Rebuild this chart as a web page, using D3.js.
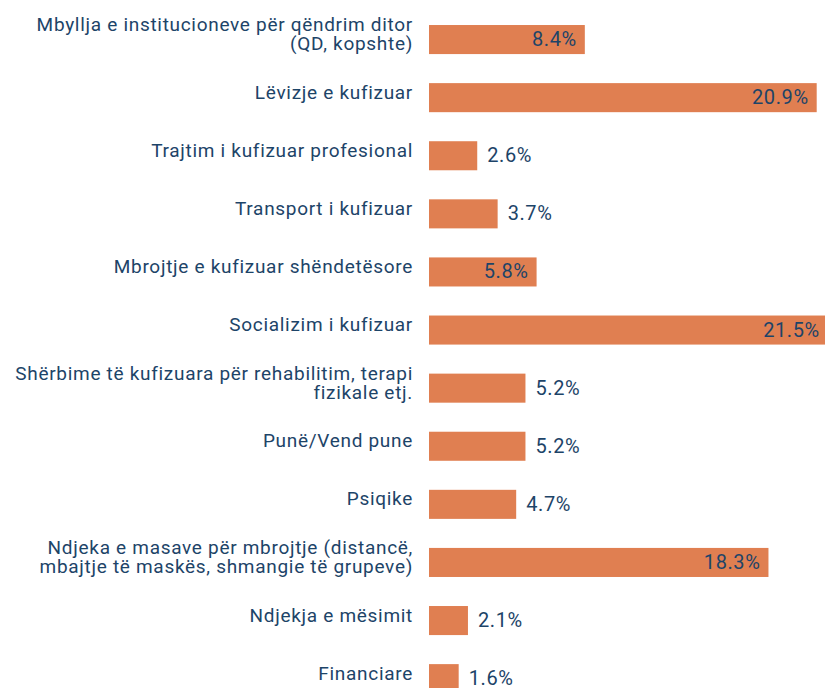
<!DOCTYPE html>
<html>
<head>
<meta charset="utf-8">
<script src="https://cdn.jsdelivr.net/npm/d3@7"></script>
<style>
  html, body { margin: 0; padding: 0; background: #ffffff; }
  svg { display: block; }
  text { font-family: "Roboto", "DejaVu Sans", sans-serif; }
</style>
</head>
<body>
<svg id="chart" width="825" height="688"></svg>
<script>
const categories = [
  "Mbyllja e institucioneve për qëndrim ditor\n(QD, kopshte)",
  "Lëvizje e kufizuar",
  "Trajtim i kufizuar profesional",
  "Transport i kufizuar",
  "Mbrojtje e kufizuar shëndetësore",
  "Socializim i kufizuar",
  "Shërbime të kufizuara për rehabilitim, terapi\nfizikale etj.",
  "Punë/Vend pune",
  "Psiqike",
  "Ndjeka e masave për mbrojtje (distancë,\nmbajtje të maskës, shmangie të grupeve)",
  "Ndjekja e mësimit",
  "Financiare"
];
const values = [8.4, 20.9, 2.6, 3.7, 5.8, 21.5, 5.2, 5.2, 4.7, 18.3, 2.1, 1.6];
const valueLabels = ["8.4%", "20.9%", "2.6%", "3.7%", "5.8%", "21.5%", "5.2%", "5.2%", "4.7%", "18.3%", "2.1%", "1.6%"];

const barColor = "#E07F51";
const textColor = "#1D4468";

const svg = d3.select("#chart");
const x0 = 429;
const pxPerUnit = 18.55;
const x = d3.scaleLinear().domain([0, 21.5]).range([x0, x0 + pxPerUnit * 21.5]);
const step = 58.1;
const y = d3.scaleBand()
  .domain(d3.range(categories.length))
  .range([10.5, 10.5 + step * categories.length])
  .paddingInner(0.5)
  .paddingOuter(0.25);

const data = categories.map((c, i) => ({ c, v: values[i], l: valueLabels[i], i }));

svg.selectAll("rect.bar").data(data).join("rect")
  .attr("class", "bar")
  .attr("x", x(0))
  .attr("y", d => y(d.i))
  .attr("width", d => x(d.v) - x(0))
  .attr("height", y.bandwidth())
  .attr("fill", barColor);

// category labels: one text element per line
const lineH = 19.3;
const catLines = [];
data.forEach(d => {
  const lines = d.c.split("\n");
  lines.forEach((ln, k) => catLines.push({ i: d.i, ln, k, n: lines.length }));
});
svg.selectAll("text.cat").data(catLines).join("text")
  .attr("class", "cat")
  .attr("text-anchor", "end")
  .attr("fill", textColor)
  .attr("font-size", 19)
  .attr("letter-spacing", 0.7)
  .attr("x", 413)
  .attr("y", d => y(d.i) + y.bandwidth() / 2 + 1 + (d.k - (d.n - 1) / 2) * lineH)
  .text(d => d.ln);

// value labels
const insideThreshold = 5.5;
svg.selectAll("text.val").data(data).join("text")
  .attr("class", "val")
  .attr("fill", textColor)
  .attr("font-size", 20)
  .attr("letter-spacing", 0.6)
  .attr("y", d => y(d.i) + y.bandwidth() / 2 + 6.5)
  .attr("x", d => d.v >= insideThreshold ? x(d.v) - 8 : x(d.v) + 10)
  .attr("text-anchor", d => d.v >= insideThreshold ? "end" : "start")
  .text(d => d.l);
</script>
</body>
</html>
